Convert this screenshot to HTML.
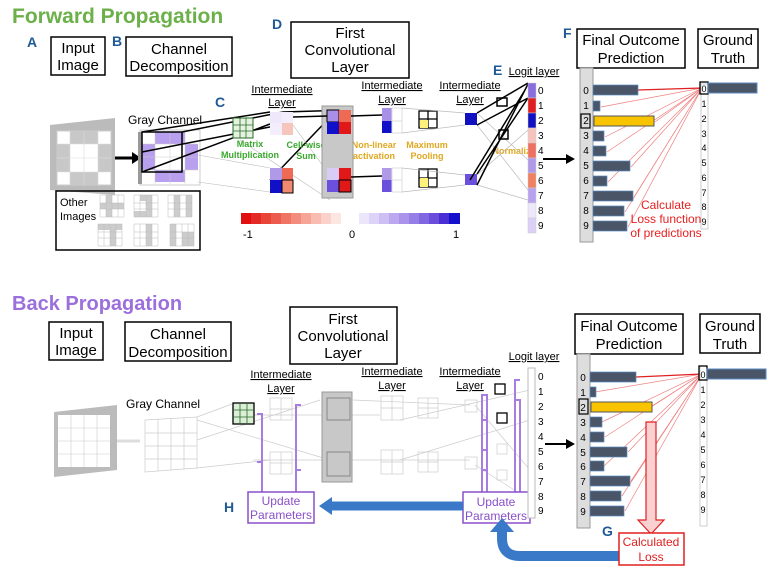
<!DOCTYPE html>
<html><head><meta charset="utf-8"><style>
html,body{margin:0;padding:0;background:#fff}
svg{display:block}
text{font-family:"Liberation Sans",sans-serif}
</style></head><body>
<svg width="770" height="572" viewBox="0 0 770 572" xmlns="http://www.w3.org/2000/svg">
<!-- ================= FORWARD ================= -->
<text x="12" y="23" font-size="21" font-weight="bold" fill="#6cb04a">Forward Propagation</text>
<g font-weight="bold" fill="#1f5a96" font-size="14">
<text x="27" y="47">A</text><text x="112" y="46">B</text><text x="272" y="29">D</text>
<text x="215" y="107">C</text><text x="493" y="75">E</text><text x="563" y="38">F</text>
</g>
<g fill="none" stroke="#000" stroke-width="1.5">
<rect x="51" y="37" width="54" height="38"/><rect x="126" y="37" width="106" height="39"/>
<rect x="291" y="22" width="118" height="56"/><rect x="577" y="29" width="108" height="39"/>
<rect x="698" y="29" width="60" height="39"/>
</g>
<g font-size="15" text-anchor="middle">
<text x="78" y="53">Input</text><text x="78" y="70">Image</text>
<text x="179" y="54">Channel</text><text x="179" y="71">Decomposition</text>
<text x="350" y="38">First</text><text x="350" y="55">Convolutional</text><text x="350" y="72">Layer</text>
<text x="631" y="45">Final Outcome</text><text x="631" y="63">Prediction</text>
<text x="728" y="45">Ground</text><text x="728" y="63">Truth</text>
</g>
<!-- input image -->
<polygon points="50,125 115,118 115,195 50,190" fill="#bbb"/>
<rect x="57" y="131" width="54" height="54" fill="#fff" stroke="#ccc"/>
<g fill="#c8c8c8">
<rect x="70" y="131" width="28" height="13"/><rect x="57" y="144" width="13" height="28"/><rect x="98" y="144" width="13" height="28"/><rect x="70" y="172" width="28" height="13"/>
</g>
<g stroke="#ddd" stroke-width="0.6"><path d="M70 131V185M84 131V185M98 131V185M57 144H111M57 158H111M57 172H111"/></g>
<path d="M115 158H132" stroke="#000" stroke-width="3"/><polygon points="132,152 141,158 132,164"/>
<text x="128" y="124" font-size="12">Gray Channel</text>
<rect x="140" y="130" width="60" height="55" fill="#fff" stroke="#ccc"/>
<rect x="138" y="132" width="4" height="52" fill="#999"/>
<g fill="#b9a0ee">
<rect x="155" y="132" width="30" height="12"/><rect x="142" y="144" width="13" height="26"/><rect x="185" y="144" width="13" height="26"/><rect x="155" y="170" width="30" height="12"/>
</g>
<g stroke="#ccc" stroke-width="0.5"><path d="M155 132V184M170 132V184M185 132V184M142 144H198M142 157H198M142 170H198"/></g>
<g stroke="#000" stroke-width="1.5" fill="none">
<rect x="142" y="132" width="40" height="40"/><path d="M142 132L270 112M142 172L270 124M182 132L283 112M142 152L285 124"/>
<path d="M283 112L350 110M270 180L335 112"/>
</g>
<g stroke="#bbb" stroke-width="0.6" fill="none"><path d="M198 155L270 168M198 182L270 192M240 140L330 200M293 125L326 170"/></g>
<!-- other images -->
<rect x="56" y="191" width="144" height="59" fill="none" stroke="#000" stroke-width="1.5"/>
<text x="60" y="206" font-size="11">Other</text><text x="60" y="220" font-size="11">Images</text>
<g fill="#ccc">
<rect x="106" y="195" width="6" height="22"/><rect x="100" y="203" width="24" height="6"/>
<rect x="140" y="195" width="12" height="6"/><rect x="146" y="201" width="6" height="10"/><rect x="134" y="211" width="18" height="6"/>
<rect x="174" y="195" width="6" height="22"/><rect x="186" y="195" width="6" height="22"/>
<rect x="98" y="224" width="24" height="6"/><rect x="110" y="230" width="6" height="16"/>
<rect x="146" y="224" width="6" height="22"/>
<rect x="170" y="224" width="6" height="22"/><rect x="182" y="232" width="12" height="14"/>
</g>
<g stroke="#bbb" stroke-width="0.5" fill="none">
<path d="M100 195h24v22h-24zM106 195v22M112 195v22M118 195v22M100 203h24M100 209h24"/>
<path d="M134 195h24v22h-24zM140 195v22M146 195v22M152 195v22M134 203h24M134 209h24"/>
<path d="M168 195h24v22h-24zM174 195v22M180 195v22M186 195v22M168 203h24M168 209h24"/>
<path d="M98 224h24v22h-24zM104 224v22M110 224v22M116 224v22M98 232h24M98 238h24"/>
<path d="M134 224h24v22h-24zM140 224v22M146 224v22M152 224v22M134 232h24M134 238h24"/>
<path d="M170 224h24v22h-24zM176 224v22M182 224v22M188 224v22M170 232h24M170 238h24"/>
</g>
<!-- kernel -->
<rect x="233" y="118" width="20" height="20" fill="#e6f2e0" stroke="#2a6a2a"/>
<path d="M240 118V138M246 118V138M233 125H253M233 131H253" stroke="#2a6a2a" stroke-width="0.8"/>
<g font-size="9" font-weight="bold" fill="#3aa82e" text-anchor="middle">
<text x="250" y="147">Matrix</text><text x="250" y="158">Multiplication</text>
<text x="306" y="148">Cell-wise</text><text x="306" y="159">Sum</text>
</g>
<g font-size="9" font-weight="bold" fill="#e0a820" text-anchor="middle">
<text x="374" y="148">Non-linear</text><text x="374" y="159">activation</text>
<text x="427" y="148">Maximum</text><text x="427" y="159">Pooling</text>
<text x="514" y="154">Normalize</text>
</g>
<g font-size="11" text-anchor="middle" text-decoration="underline">
<text x="282" y="93">Intermediate</text><text x="282" y="106">Layer</text>
<text x="392" y="89">Intermediate</text><text x="392" y="103">Layer</text>
<text x="470" y="89">Intermediate</text><text x="470" y="103">Layer</text>
<text x="534" y="75">Logit layer</text>
</g>
<!-- feature maps -->
<rect x="270" y="112" width="12" height="11" fill="#efe8fb"/><rect x="282" y="112" width="11" height="11" fill="#f4eefc"/><rect x="270" y="123" width="12" height="12" fill="#f4eefc"/><rect x="282" y="123" width="11" height="12" fill="#f6c6bc"/>
<rect x="270" y="168" width="12" height="12" fill="#b09ae8"/><rect x="282" y="168" width="11" height="12" fill="#ee6a54"/><rect x="270" y="180" width="12" height="13" fill="#1010c8"/><rect x="282" y="180" width="11" height="13" fill="#f08a70" stroke="#000"/>
<rect x="322" y="106" width="31" height="92" fill="#c8c8c8" stroke="#999"/>
<rect x="327" y="110" width="12" height="12" fill="#a890e8" stroke="#000"/><rect x="339" y="110" width="12" height="12" fill="#ee6a54"/><rect x="327" y="122" width="12" height="12" fill="#1010c8"/><rect x="339" y="122" width="12" height="12" fill="#e01818"/>
<rect x="327" y="168" width="12" height="12" fill="#d8ccf6"/><rect x="339" y="168" width="12" height="12" fill="#e01818"/><rect x="327" y="180" width="12" height="12" fill="#6a50dc"/><rect x="339" y="180" width="12" height="12" fill="#e01818" stroke="#000"/>
<path d="M293 117L327 116M351 116L382 115M351 177L382 176" stroke="#000" stroke-width="1.5"/>
<rect x="382" y="108" width="10" height="13" fill="#a890e8"/><rect x="392" y="108" width="10" height="13" fill="#fff" stroke="#ddd"/><rect x="382" y="121" width="10" height="12" fill="#1010c8"/><rect x="392" y="121" width="10" height="12" fill="#fff" stroke="#ddd"/>
<rect x="382" y="168" width="10" height="12" fill="#b09ae8"/><rect x="392" y="168" width="10" height="12" fill="#fff" stroke="#ddd"/><rect x="382" y="180" width="10" height="12" fill="#6a50dc"/><rect x="392" y="180" width="10" height="12" fill="#fff" stroke="#ddd"/>
<g stroke="#000" stroke-width="1.3" fill="none"><rect x="419" y="111" width="18" height="17"/><path d="M428 111V128M419 119H437"/><rect x="419" y="169" width="18" height="18"/><path d="M428 169V187M419 178H437"/></g>
<rect x="420" y="120" width="8" height="8" fill="#fff27a"/><rect x="420" y="178" width="8" height="9" fill="#fff27a"/>
<g stroke="#bbb" stroke-width="0.7" fill="none"><path d="M402 108L465 113M402 133L465 125M402 168L465 175M402 192L465 185M477 125L528 190M477 185L528 200M477 113L528 160M477 175L528 130"/></g>
<rect x="465" y="113" width="12" height="12" fill="#1010c0"/><rect x="465" y="174" width="12" height="11" fill="#6a50dc"/>
<g stroke="#000" stroke-width="1.5" fill="none"><path d="M477 113L528 83M477 125L528 98M477 174L528 98M477 185L528 84M470 180L525 90"/><rect x="497" y="98" width="10" height="8"/><rect x="499" y="130" width="9" height="9"/></g>
<!-- logit -->
<g stroke="#ccc" stroke-width="0.5">
<rect x="528" y="83" width="8" height="15" fill="#8a6ee0"/><rect x="528" y="98" width="8" height="15" fill="#e02020"/><rect x="528" y="113" width="8" height="15" fill="#1010c0"/><rect x="528" y="128" width="8" height="15" fill="#f6c4bc"/><rect x="528" y="143" width="8" height="15" fill="#f07060"/><rect x="528" y="158" width="8" height="15" fill="#b09ae8"/><rect x="528" y="173" width="8" height="15" fill="#f08060"/><rect x="528" y="188" width="8" height="15" fill="#b8a2f0"/><rect x="528" y="203" width="8" height="15" fill="#eee8fb"/><rect x="528" y="218" width="8" height="15" fill="#dcd0f6"/>
</g>
<g font-size="10"><text x="538" y="94">0</text><text x="538" y="109">1</text><text x="538" y="124">2</text><text x="538" y="139">3</text><text x="538" y="154">4</text><text x="538" y="169">5</text><text x="538" y="184">6</text><text x="538" y="199">7</text><text x="538" y="214">8</text><text x="538" y="229">9</text></g>
<path d="M543 159H568" stroke="#000" stroke-width="2"/><polygon points="566,154 575,159 566,164"/>
<!-- color scale -->
<g><rect x="241" y="213" width="10" height="11" fill="#e01010"/><rect x="251" y="213" width="10" height="11" fill="#e42a24"/><rect x="261" y="213" width="10" height="11" fill="#e84438"/><rect x="271" y="213" width="10" height="11" fill="#ec5c4e"/><rect x="281" y="213" width="10" height="11" fill="#f07464"/><rect x="291" y="213" width="10" height="11" fill="#f38c7c"/><rect x="301" y="213" width="10" height="11" fill="#f6a496"/><rect x="311" y="213" width="10" height="11" fill="#f8bcb0"/><rect x="321" y="213" width="10" height="11" fill="#fad2ca"/><rect x="331" y="213" width="10" height="11" fill="#fce6e2"/>
<rect x="359" y="213" width="10" height="11" fill="#ece6fb"/><rect x="369" y="213" width="10" height="11" fill="#ddd2f7"/><rect x="379" y="213" width="10" height="11" fill="#cdbef3"/><rect x="389" y="213" width="10" height="11" fill="#bca8ef"/><rect x="399" y="213" width="10" height="11" fill="#aa94eb"/><rect x="409" y="213" width="10" height="11" fill="#967ee7"/><rect x="419" y="213" width="10" height="11" fill="#8066e1"/><rect x="429" y="213" width="10" height="11" fill="#6a4edb"/><rect x="439" y="213" width="10" height="11" fill="#4a30d4"/><rect x="449" y="213" width="11" height="11" fill="#1410cc"/></g>
<g font-size="11"><text x="243" y="238">-1</text><text x="349" y="238">0</text><text x="453" y="238">1</text></g>
<!-- prediction -->
<rect x="580" y="68" width="13" height="174" fill="#ddd" stroke="#999"/>
<g stroke="#f08080" stroke-width="0.7" fill="none"><path d="M702 88L601 107M702 88L655 122M702 88L605 137M702 88L607 152M702 88L631 167M702 88L608 182M702 88L634 197M702 88L625 212M702 88L628 227"/></g>
<path d="M638 90L702 88" stroke="#e02020" stroke-width="1.3"/>
<g fill="#4a5668" stroke="#5a8ac0" stroke-width="0.7">
<rect x="593" y="85" width="45" height="10"/><rect x="593" y="101" width="7" height="10"/><rect x="593" y="131" width="11" height="10"/><rect x="593" y="146" width="13" height="10"/><rect x="593" y="161" width="37" height="10"/><rect x="593" y="176" width="14" height="10"/><rect x="593" y="191" width="40" height="10"/><rect x="593" y="206" width="31" height="10"/><rect x="593" y="221" width="34" height="10"/>
</g>
<rect x="594" y="116" width="60" height="10" fill="#f8c400" stroke="#555"/>
<rect x="581" y="114" width="9" height="14" fill="none" stroke="#000" stroke-width="1.2"/>
<g font-size="10" text-anchor="middle"><text x="586" y="94">0</text><text x="586" y="109">1</text><text x="586" y="124">2</text><text x="586" y="139">3</text><text x="586" y="154">4</text><text x="586" y="169">5</text><text x="586" y="184">6</text><text x="586" y="199">7</text><text x="586" y="214">8</text><text x="586" y="229">9</text></g>
<g font-size="12" fill="#e82020" text-anchor="middle"><text x="666" y="209">Calculate</text><text x="666" y="223">Loss function</text><text x="666" y="237">of predictions</text></g>
<rect x="701" y="84" width="7" height="145" fill="#fff" stroke="#ccc"/>
<rect x="700" y="82" width="8" height="12" fill="none" stroke="#000" stroke-width="1.3"/>
<rect x="708" y="83" width="49" height="10" fill="#4a5668" stroke="#5a8ac0"/>
<g font-size="9" text-anchor="middle"><text x="704" y="92">0</text><text x="704" y="107">1</text><text x="704" y="122">2</text><text x="704" y="137">3</text><text x="704" y="151">4</text><text x="704" y="166">5</text><text x="704" y="181">6</text><text x="704" y="196">7</text><text x="704" y="210">8</text><text x="704" y="225">9</text></g>

<!-- ================= BACK ================= -->
<text x="12" y="310" font-size="20" font-weight="bold" fill="#9b6fdc">Back Propagation</text>
<g fill="none" stroke="#000" stroke-width="1.5">
<rect x="49" y="322" width="54" height="38"/><rect x="125" y="322" width="106" height="39"/>
<rect x="290" y="307" width="107" height="57"/><rect x="575" y="314" width="108" height="40"/>
<rect x="700" y="314" width="60" height="39"/>
</g>
<g font-size="15" text-anchor="middle">
<text x="76" y="338">Input</text><text x="76" y="355">Image</text>
<text x="178" y="339">Channel</text><text x="178" y="357">Decomposition</text>
<text x="343" y="324">First</text><text x="343" y="341">Convolutional</text><text x="343" y="358">Layer</text>
<text x="629" y="331">Final Outcome</text><text x="629" y="349">Prediction</text>
<text x="730" y="331">Ground</text><text x="730" y="349">Truth</text>
</g>
<g font-size="11" text-anchor="middle" text-decoration="underline">
<text x="281" y="378">Intermediate</text><text x="281" y="392">Layer</text>
<text x="392" y="375">Intermediate</text><text x="392" y="389">Layer</text>
<text x="470" y="375">Intermediate</text><text x="470" y="389">Layer</text>
<text x="534" y="360">Logit layer</text>
</g>
<polygon points="54,412 117,405 117,470 54,477" fill="#bbb"/>
<rect x="58" y="415" width="52" height="52" fill="#fff"/>
<g stroke="#ccc" stroke-width="0.6"><path d="M71 415V467M84 415V467M97 415V467M58 428H110M58 441H110M58 454H110"/></g>
<path d="M117 441H140" stroke="#ddd" stroke-width="3"/>
<text x="126" y="408" font-size="12">Gray Channel</text>
<g stroke="#ccc" stroke-width="0.7" fill="none"><path d="M145 420L197 417V468L145 472ZM158 419V471M171 418V470M184 418V469M145 433H197M145 446H197M145 459H197"/>
<path d="M197 417L232 404M197 468L270 460M197 440L320 400M197 420L330 460M253 415L380 415M253 460L380 460M353 400L470 405M353 460L470 460M400 420L530 390M400 460L530 420M475 405L530 470M475 465L530 500"/>
<rect x="270" y="398" width="22" height="22"/><rect x="270" y="452" width="22" height="22"/><path d="M281 398V420M270 409H292M281 452V474M270 463H292"/>
<rect x="381" y="396" width="22" height="24"/><rect x="381" y="450" width="22" height="24"/><path d="M392 396V420M381 408H403M392 450V474M381 462H403"/>
<rect x="418" y="398" width="20" height="20"/><rect x="418" y="452" width="20" height="20"/><path d="M428 398V418M418 408H438M428 452V472M418 462H438"/>
<rect x="465" y="400" width="12" height="12"/><rect x="465" y="457" width="12" height="12"/>
<rect x="497" y="444" width="10" height="10"/><rect x="497" y="470" width="10" height="10"/></g>
<rect x="233" y="403" width="21" height="21" fill="#dbeed6" stroke="#000" stroke-width="1.3"/>
<path d="M240 403V424M247 403V424M233 410H254M233 417H254" stroke="#2a6a2a" stroke-width="0.8"/>
<rect x="322" y="392" width="30" height="90" fill="#c8c8c8" stroke="#999"/>
<path d="M327 398H350V420H327ZM327 452H350V476H327Z" fill="none" stroke="#888"/>
<rect x="495" y="384" width="10" height="10" fill="#fff" stroke="#000" stroke-width="1.3"/><rect x="497" y="413" width="10" height="10" fill="#fff" stroke="#000" stroke-width="1.3"/>
<!-- purple arrows -->
<g stroke="#a77ee0" stroke-width="2" fill="none">
<path d="M262 492V414H257M296 492V405H301M262 462H257M296 470H301"/>
<path d="M482 492V395H488M487 492V395M482 420H488M482 450H488M482 470H488M515 492V380H520M520 492V400H515"/>
</g>
<rect x="248" y="492" width="66" height="31" fill="#fff" stroke="#8a50c8" stroke-width="1.5"/>
<rect x="463" y="492" width="67" height="31" fill="#fff" stroke="#8a50c8" stroke-width="1.5"/>
<g font-size="12" fill="#8a50c8" text-anchor="middle"><text x="281" y="505">Update</text><text x="281" y="519">Parameters</text><text x="496" y="506">Update</text><text x="496" y="520">Parameters</text></g>
<text x="224" y="512" font-size="14" font-weight="bold" fill="#1f5a96">H</text>
<path d="M463 506H330" stroke="#3a78c8" stroke-width="9"/><polygon points="332,497 319,506 332,515" fill="#3a78c8"/>
<!-- logit back -->
<rect x="528" y="368" width="7" height="150" fill="#fff" stroke="#bbb"/>
<g font-size="10"><text x="538" y="380">0</text><text x="538" y="395">1</text><text x="538" y="410">2</text><text x="538" y="425">3</text><text x="538" y="440">4</text><text x="538" y="455">5</text><text x="538" y="470">6</text><text x="538" y="485">7</text><text x="538" y="500">8</text><text x="538" y="514">9</text></g>
<path d="M545 444H568" stroke="#000" stroke-width="2"/><polygon points="566,439 575,444 566,449"/>
<rect x="577" y="354" width="13" height="174" fill="#ddd" stroke="#999"/>
<g stroke="#f08080" stroke-width="0.7" fill="none"><path d="M702 374L595 392M702 374L652 406M702 374L602 422M702 374L605 437M702 374L628 452M702 374L604 466M702 374L631 481M702 374L622 496M702 374L625 511"/></g>
<path d="M636 377L702 374" stroke="#e02020" stroke-width="1.3"/>
<g fill="#4a5668" stroke="#5a8ac0" stroke-width="0.7">
<rect x="590" y="372" width="46" height="10"/><rect x="590" y="387" width="6" height="10"/><rect x="590" y="417" width="12" height="10"/><rect x="590" y="432" width="14" height="10"/><rect x="590" y="447" width="37" height="10"/><rect x="590" y="461" width="14" height="10"/><rect x="590" y="476" width="40" height="10"/><rect x="590" y="491" width="31" height="10"/><rect x="590" y="506" width="34" height="10"/>
</g>
<rect x="591" y="402" width="61" height="10" fill="#f8c400" stroke="#555"/>
<rect x="579" y="399" width="9" height="15" fill="none" stroke="#000" stroke-width="1.2"/>
<g font-size="10" text-anchor="middle"><text x="583" y="381">0</text><text x="583" y="396">1</text><text x="583" y="411">2</text><text x="583" y="426">3</text><text x="583" y="441">4</text><text x="583" y="456">5</text><text x="583" y="470">6</text><text x="583" y="485">7</text><text x="583" y="500">8</text><text x="583" y="515">9</text></g>
<rect x="700" y="366" width="7" height="160" fill="#fff" stroke="#ccc"/>
<rect x="699" y="366" width="8" height="14" fill="none" stroke="#000" stroke-width="1.3"/>
<rect x="707" y="369" width="59" height="10" fill="#4a5668" stroke="#5a8ac0"/>
<g font-size="9" text-anchor="middle"><text x="703" y="378">0</text><text x="703" y="393">1</text><text x="703" y="408">2</text><text x="703" y="423">3</text><text x="703" y="438">4</text><text x="703" y="453">5</text><text x="703" y="468">6</text><text x="703" y="483">7</text><text x="703" y="498">8</text><text x="703" y="513">9</text></g>
<!-- loss -->
<polygon points="646,422 656,422 656,520 664,520 651,534 638,520 646,520" fill="#fbd0d0" stroke="#e02020" stroke-width="1.2"/>
<text x="602" y="536" font-size="14" font-weight="bold" fill="#1f5a96">G</text>
<path d="M619 556H520Q502 556 502 538V530" stroke="#3a78c8" stroke-width="10" fill="none"/>
<polygon points="490,532 502,518 514,532" fill="#3a78c8"/>
<rect x="619" y="533" width="65" height="32" fill="#fff" stroke="#e02020" stroke-width="1.5"/>
<g font-size="12" fill="#e02020" text-anchor="middle"><text x="651" y="546">Calculated</text><text x="651" y="561">Loss</text></g>
</svg>
</body></html>
